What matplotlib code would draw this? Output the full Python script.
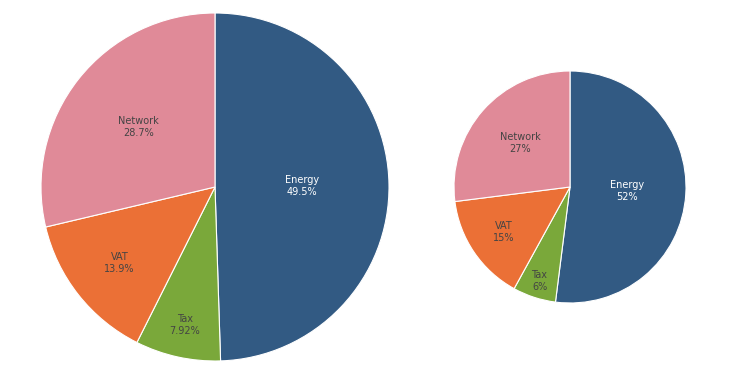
import numpy as np
import matplotlib
matplotlib.use("Agg")
import matplotlib.pyplot as plt

# slices, clockwise from 12 o'clock
categories = ["Energy", "Tax", "VAT", "Network"]
left_values = [49.5, 7.92, 13.9, 28.7]
right_values = [52, 6, 15, 27]

colors = ["#325a83", "#7aa83a", "#eb7036", "#e08a98"]
text_colors = ["white", "#444444", "#444444", "#444444"]

plt.rcParams['font.family'] = ['DejaVu Sans']


def draw_pie(ax, values, label_r):
    total = sum(values)
    wedges, _ = ax.pie(values, colors=colors, startangle=90, counterclock=False,
                       wedgeprops=dict(edgecolor="white", linewidth=0.8))
    for w, cat, v, tc, r in zip(wedges, categories, values, text_colors, label_r):
        mid = np.deg2rad((w.theta1 + w.theta2) / 2)
        pct = v / total * 100
        ax.text(r * np.cos(mid), r * np.sin(mid), f"{cat}\n{pct:.3g}%",
                ha="center", va="center", fontsize=7, color=tc, linespacing=1.25)
    ax.set_aspect("equal")
    ax.set_xlim(-1, 1)
    ax.set_ylim(-1, 1)


W, H = 736, 370
fig = plt.figure(figsize=(W / 100, H / 100), dpi=100)

# pixel boxes: left, top, size
ax1 = fig.add_axes([41 / W, (H - 361) / H, 348 / W, 348 / H])
draw_pie(ax1, left_values, [0.5, 0.81, 0.7, 0.56])

ax2 = fig.add_axes([454 / W, (H - 303) / H, 232 / W, 232 / H])
draw_pie(ax2, right_values, [0.49, 0.85, 0.69, 0.57])

fig.savefig("out.png", dpi=100)
